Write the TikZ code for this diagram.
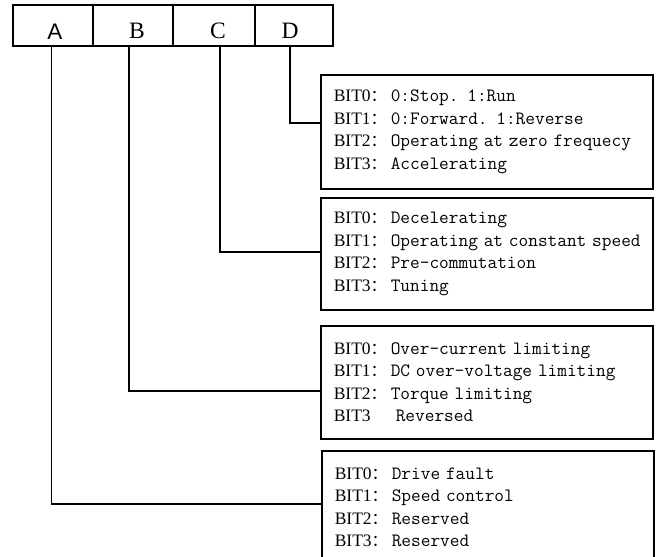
\documentclass[tikz,border=0pt]{standalone}
\usepackage{fontspec}
\setmainfont{Liberation Serif}
\newfontfamily\cjkfont{Noto Sans CJK SC}
\newfontfamily\labelsans{Liberation Sans}
\newcommand\fwc{{\cjkfont\fontsize{16}{22.5}\selectfont ：}}
\newcommand\bitrow[2]{\mbox{\makebox[57pt][l]{#1}{\ttfamily\fontsize{18.8}{22.5}\selectfont #2}}}
\begin{document}
\begin{tikzpicture}[x=1pt,y=-1pt,
  cell/.style={draw, line width=1.6pt, minimum height=41pt, inner sep=0pt, anchor=north west},
  lbl/.style={anchor=base, inner sep=0pt, font=\fontsize{23.5}{24}\selectfont},
  infobox/.style={draw, line width=1.6pt, anchor=north west, minimum width=332pt,
    text width=306pt, inner xsep=13pt, inner ysep=0pt, align=left,
    font=\fontsize{17.5}{22.5}\selectfont},
  conn/.style={draw, line width=1.6pt}]
\clip (0,0) rectangle (659,557);
% top register cells
\node[cell, minimum width=80pt] (cA) at (12,4) {};
\node[cell, minimum width=80pt] (cB) at (92,4) {};
\node[cell, minimum width=82pt] (cC) at (172,4) {};
\node[cell, minimum width=78pt] (cD) at (254,4) {};
\node[lbl, font=\labelsans\fontsize{22.5}{24}\selectfont] (lA) at (55,39.5) {A};
\node[lbl] (lB) at (137,38.5) {B};
\node[lbl] (lC) at (218,38.5) {C};
\node[lbl] (lD) at (290,38.5) {D};
% description boxes
\node[infobox, minimum height=114pt] (bD) at (320,74) {%
\bitrow{BIT0\fwc}{0:Stop. 1:Run}\\
\bitrow{BIT1\fwc}{0:Forward. 1:Reverse}\\
\bitrow{BIT2\fwc}{Operating at zero frequecy}\\
\bitrow{BIT3\fwc}{Accelerating}};
\node[infobox, minimum height=112pt] (bC) at (320,197) {%
\bitrow{BIT0\fwc}{Decelerating}\\
\bitrow{BIT1\fwc}{Operating at constant speed}\\
\bitrow{BIT2\fwc}{Pre-commutation}\\
\bitrow{BIT3\fwc}{Tuning}};
\node[infobox, minimum height=113pt] (bB) at (320,325) {%
\bitrow{BIT0\fwc}{Over-current limiting}\\
\bitrow{BIT1\fwc}{DC over-voltage limiting}\\
\bitrow{BIT2\fwc}{Torque limiting}\\
\bitrow{BIT3}{\hspace{5pt}Reversed}};
\node[infobox, minimum height=113pt] (bA) at (321,450) {%
\bitrow{BIT0\fwc}{Drive fault}\\
\bitrow{BIT1\fwc}{Speed control}\\
\bitrow{BIT2\fwc}{Reserved}\\
\bitrow{BIT3\fwc}{Reserved}};
% connectors
\draw[conn] ([xshift=-4pt]cD.south) |- ([yshift=9pt]bD.west);
\draw[conn] ([xshift=6pt]cC.south) |- ([yshift=2pt]bC.west);
\draw[conn] ([xshift=-4pt]cB.south) |- ([yshift=-8.5pt]bB.west);
\draw[conn] ([xshift=-1.3pt]cA.south) |- ([yshift=3.5pt]bA.west);
\end{tikzpicture}
\end{document}
